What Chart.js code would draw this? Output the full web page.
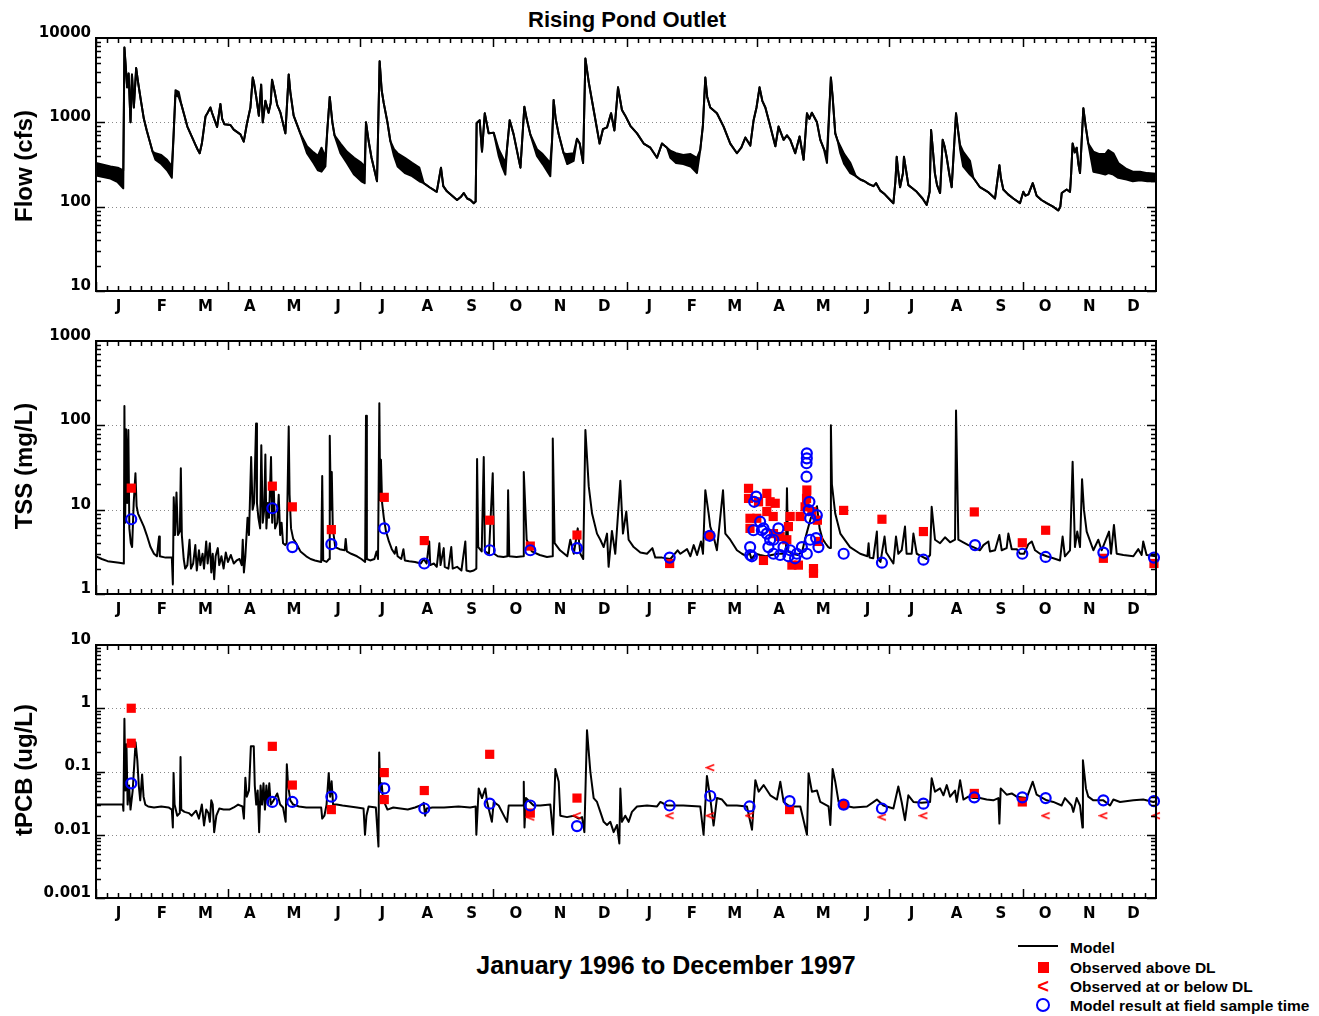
<!DOCTYPE html>
<html>
<head>
<meta charset="utf-8">
<title>Rising Pond Outlet</title>
<script src="https://cdn.jsdelivr.net/npm/chart.js@4.4.1/dist/chart.umd.min.js"></script>
<style>
  body { margin: 0; background: #fff; }
  #page { position: relative; width: 1319px; height: 1016px; font-family: "Liberation Sans", Arial, Helvetica, sans-serif; font-weight: bold; color: #000; }
  canvas { position: absolute; left: 0; }
  .txt { position: absolute; white-space: nowrap; transform: translate(-50%, -50%); }
  .ytitle { position: absolute; white-space: nowrap; font-size: 24px; transform: translate(-50%, -50%) rotate(-90deg); }
  .leg { position: absolute; left: 1070px; white-space: nowrap; font-size: 15.5px; line-height: 1; transform: translateY(-50%); }
</style>
</head>
<body>
<div id="page">
  <div class="txt" style="left:627px; top:20px; font-size:22px;">Rising Pond Outlet</div>
  <canvas id="flowChart" width="1319" height="303" style="top:18px"></canvas>
  <canvas id="tssChart" width="1319" height="303" style="top:321px"></canvas>
  <canvas id="pcbChart" width="1319" height="303" style="top:625px"></canvas>
  <div class="ytitle" style="left:24px; top:166px;">Flow (cfs)</div>
  <div class="ytitle" style="left:24px; top:466px;">TSS (mg/L)</div>
  <div class="ytitle" style="left:24px; top:770px;">tPCB (ug/L)</div>
  <div class="txt" style="left:666px; top:965px; font-size:25px;">January 1996 to December 1997</div>

  <!-- legend -->
  <div style="position:absolute; left:1018px; top:945px; width:40px; height:2px; background:#000;"></div>
  <div class="leg" style="top:948px;">Model</div>
  <div style="position:absolute; left:1038px; top:962px; width:11px; height:11px; background:#ff0000;"></div>
  <div class="leg" style="top:968px;">Observed above DL</div>
  <div class="txt" style="left:1043px; top:986px; font-size:20px; color:#ff0000;">&lt;</div>
  <div class="leg" style="top:987px;">Observed at or below DL</div>
  <div style="position:absolute; left:1036px; top:998px; width:10px; height:10px; border:2px solid #0000ff; border-radius:50%;"></div>
  <div class="leg" style="top:1006px;">Model result at field sample time</div>
</div>

<script>
// x values are days since 1 Jan 1996
const monthLetters = ['J','F','M','A','M','J','J','A','S','O','N','D','J','F','M','A','M','J','J','A','S','O','N','D'];
const flowTicks = [10, 100, 1000, 10000];
const tssTicks = [1, 10, 100, 1000];
const pcbTicks = [0.001, 0.01, 0.1, 1, 10];

// Flow (cfs): lower edge of the model line, and upper edge where the daily swing makes a band (null = no band)
const flowDay = [0, 5, 10, 15, 18.8, 19.6, 21.5, 22.5, 23.8, 24.8, 26.1, 27.7, 29, 31, 33, 35, 37, 39, 41, 45, 49, 52.3,
  53.5, 54.8, 57, 59, 61, 63, 66, 68.6, 70, 71.5, 73, 75.5, 77, 78.9, 80, 81.5, 83.5, 85.8, 87, 88.5, 92.7, 95, 99.6, 101.9,
  104, 106.5, 108.1, 109, 110.5, 112.3, 113.9, 115, 116.8, 119, 120.5, 121.4, 123, 125, 127.2, 130.6, 132.9, 134, 136.3, 140.9,
  145.5, 150, 153, 155.5, 158.2, 159.5, 161.2, 163, 164.5, 168.6, 173, 178, 183, 185.3, 186.2, 188, 190, 193.8, 195.6, 197,
  198.4, 201, 203, 205.5, 208, 213, 218, 223, 226, 230, 235, 237.9, 239.5, 242, 249, 251.5, 253.6, 256, 258.2, 260.5, 261.8,
  262.5, 264.6, 265.5, 266.2, 268.1, 270.8, 274.3, 277.7, 280, 282.3, 283.5, 285.3, 288, 292.7, 295.4, 297, 299.5, 304.1, 308,
  313.3, 314.5, 315.6, 317, 319.1, 322.5, 325, 329.4, 331.7, 333.6, 335.9, 337.5, 339.8, 343.2, 347.3, 349.6, 352.4, 355.2,
  357.5, 360, 362.7, 365, 368.5, 373.1, 377.7, 382.3, 386.9, 390.3, 393.8, 396.1, 400, 405, 410, 414.4, 416.7, 418.5, 420.2,
  421.5, 423.6, 428.2, 432.8, 437.4, 442, 445, 447.8, 451.2, 453.5, 455.5, 457.6, 459.5, 461.6, 465, 468.5, 470.7, 474.2,
  476.5, 478.8, 482.2, 485.2, 488, 490.3, 492, 493.7, 497.2, 499.5, 502, 504.1, 506.8, 508, 509.8, 511.5, 513.3, 516, 520.2,
  524, 527.1, 530, 533, 536.2, 538, 540.8, 544, 547.7, 549.9, 551.3, 552.2, 553, 554.5, 556.5, 557.2, 558.5, 560.2, 563, 566,
  570, 572.9, 574.9, 575.9, 577, 578.5, 580, 582.1, 583.9, 585.2, 586.7, 588.5, 590.1, 593.1, 594.5, 595.9, 598, 602.7, 605,
  609.6, 615, 620, 623, 624, 625.7, 629, 632.6, 637.2, 639.5, 641, 643, 646, 648.7, 652, 655.6, 660, 663.6, 665, 666, 669.4,
  671.7, 672.5, 673.5, 675, 676.3, 677.5, 678.6, 680.9, 682.5, 684.3, 687.8, 692, 696, 698.1, 701.6, 705, 710.7, 715, 720, 725, 731];
const flowLow = [235, 225, 215, 195, 165, 7700, 2600, 3800, 1000, 3700, 1500, 4400, 3000, 1800, 1100, 800, 600, 450, 360, 320, 270, 220,
  700, 2100, 2000, 1600, 1200, 890, 680, 540, 480, 430, 560, 1170, 1300, 1500, 1300, 1100, 880, 1650, 1100, 950, 930, 820, 720, 590,
  950, 1500, 3400, 2900, 2000, 1200, 2800, 1000, 1800, 1300, 1700, 3200, 2400, 1600, 1300, 740, 3700, 2300, 1200, 740,
  430, 330, 270, 260, 300, 800, 2000, 1000, 700, 430, 330, 240, 200, 190, 1000, 600, 380, 200, 5300, 2400,
  1700, 1000, 600, 400, 300, 250, 230, 200, 190, 170, 150, 290, 175, 152, 120, 130, 145, 125, 120, 110, 115,
  980, 1060, 650, 450, 1280, 740, 750, 400, 300, 240, 500, 1060, 720, 290, 1530, 1100, 720, 400, 320,
  230, 600, 1840, 1100, 720, 430, 320, 350, 640, 560, 330, 5700, 3000, 1400, 560, 830, 870, 1280,
  800, 2600, 1400, 1200, 910, 740, 560, 500, 380, 560, 500, 380, 330, 320, 300, 250, 470, 900, 3400,
  2000, 1500, 1280, 890, 560, 430, 500, 660, 530, 1060, 1500, 2600, 1800, 1500, 900, 520, 890, 620,
  700, 620, 430, 680, 360, 1280, 1100, 1300, 1000, 620, 480, 330, 3400, 2000, 740, 600, 430, 320, 250,
  230, 210, 200, 185, 175, 190, 155, 140, 120, 110, 200, 390, 280, 170, 250, 390, 280, 180, 165, 150,
  125, 105, 150, 810, 500, 250, 180, 145, 620, 520, 380, 240, 170, 1280, 800, 480, 300, 240, 220,
  170, 150, 125, 310, 220, 160, 140, 125, 110, 150, 135, 140, 190, 135, 120, 110, 100, 90, 100, 145, 160,
  150, 250, 560, 440, 500, 320, 250, 1470, 900, 560, 260, 250, 240, 250, 240, 220, 210, 200, 205, 200, 200];
const flowHigh = [330, 315, 300, 290, 270, null, null, null, null, null, null, null, null, null, null, null, null, null, 430, 410, 360, 300,
  null, 2400, 2300, null, null, null, null, null, null, null, null, null, null, null, null, null, null, null, null, null, null, null, null, null,
  null, null, null, null, null, null, null, null, null, null, null, null, null, null, null, null, null, null, null, null,
  520, 440, 400, 500, 390, null, null, null, null, 560, 450, 380, 330, 300, null, null, null, null, null, null,
  null, null, null, 480, 430, 380, 330, 290, null, null, null, null, null, null, null, null, null, null, null, null, null,
  null, null, null, null, null, null, null, 480, 400, 330, null, null, null, null, null, null, null, 480, 420,
  330, null, null, null, null, null, 420, 430, null, null, null, null, null, null, null, null, null, null,
  null, null, null, null, null, null, null, null, null, null, null, 460, 430, 410, 420, 380, null, null, null,
  null, null, null, null, null, null, null, null, null, null, null, null, null, null, null, null, null, null,
  null, null, null, null, null, null, null, null, null, null, null, 420, null, null, null, null, 520, 420, 330,
  null, null, null, null, null, null, null, null, null, null, null, null, null, null, null, null, null, null, null, null,
  null, null, null, null, null, null, null, null, null, null, null, null, null, null, null, 540, 450, 350, null,
  null, null, null, null, null, null, null, null, null, null, null, null, null, null, null, null, null, null, null, null, null,
  null, null, null, null, null, null, null, null, null, null, 450, 420, 420, 470, 430, 330, 280, 260, 260, 250, 245];

// TSS (mg/L) model line
const tssDay = [0, 4, 8, 12, 16, 19.2, 19.6, 20.1, 20.7, 21.5, 22.3, 23, 24, 24.9, 26, 27.2, 28, 29, 31, 33, 35, 37.6, 40, 42, 43.5, 44,
  48, 52.3, 53, 53.6, 54.5, 55.5, 56.5, 57.8, 58.5, 59.2, 60.5, 61.5, 63, 64.5, 65.5, 67, 68.5, 69.5, 71, 72, 73.5, 74.5, 76, 77,
  78.5, 79.5, 80.5, 81.5, 82.5, 84, 85, 86.5, 88, 89.5, 91, 93, 95, 97, 99, 100.5, 101.2, 102, 103, 104.5, 105.5, 107, 108, 109,
  110.4, 111, 112, 113.2, 114, 115, 116, 116.8, 117.5, 118.5, 119.3, 120.7, 121.5, 122.5, 123.5, 125, 126, 127, 128, 129, 130.5,
  131.5, 132.9, 133.5, 134.5, 136, 138, 141, 145, 148, 151, 155.3, 156, 156.7, 159, 160.7, 161.2, 162, 162.6, 163.3, 165, 168,
  171.5, 172.2, 173, 176, 180, 183, 185.6, 186.2, 186.8, 189, 192, 193.5, 194.5, 195.4, 196, 196.5, 197.3, 198.5, 200, 202, 204,
  206, 207, 208, 210.5, 212, 213, 216, 220, 224, 226, 228, 229.8, 230.5, 233, 235, 236.8, 237.6, 239.8, 240.5, 243, 245, 246,
  249, 252, 254.7, 255.5, 258, 260.5, 262.3, 262.8, 263.6, 266, 267.4, 268.2, 271, 273.6, 274.6, 277, 281, 283.7, 284.2, 285,
  290, 294.5, 295, 297, 300.5, 306, 311, 314.5, 315, 316.3, 320, 325, 327.1, 329.5, 332.2, 334, 336, 337.5, 339.8, 342.1, 345.5,
  347.8, 350.1, 352.4, 353.5, 355.8, 358.1, 361.6, 363.4, 365.7, 367.3, 370.8, 375.4, 380, 383.7, 385.7, 390.3, 396.1, 401.1,
  403, 407.6, 409.9, 412.2, 414.5, 417.2, 418.6, 420.2, 422.5, 423.6, 425.9, 428.2, 432.4, 434, 437.4, 442, 445.5, 448.9,
  450.5, 452, 455, 458, 462, 466, 470, 474, 475.8, 476.5, 477.3, 480, 484, 487, 489, 491, 493, 495, 497.2, 499, 501, 503, 505,
  506.2, 506.8, 507.5, 509.8, 513.3, 520, 527, 532, 532.8, 533.5, 536, 538.5, 539.2, 541, 543.8, 545, 549.9, 551.7, 553.3,
  555.6, 557.9, 559, 562.5, 563.7, 566, 569.4, 572.9, 575.2, 576.3, 578.6, 582.1, 585.5, 589, 592.4, 593.1, 594.7, 598.1,
  601.6, 605, 609.6, 612, 615.4, 616.5, 620, 623, 624.6, 628, 629.2, 631.5, 635, 637.2, 640, 643, 645.3, 647.6, 651, 655.6,
  660.2, 664.8, 666.6, 668.2, 671.7, 673.5, 675.1, 676.7, 678.6, 680, 681.3, 683.2, 687.8, 691.2, 693.5, 698.6, 700, 702,
  703.9, 708.5, 715.4, 718.8, 721.1, 722.2, 724.5, 731];
const tssVal = [2.8, 2.6, 2.45, 2.4, 2.35, 2.3, 170, 7, 90, 12, 88, 6, 4, 3.6, 12, 27, 11, 9, 7.5, 6.3, 5, 3.6, 3, 2.8, 4.8, 2.8,
  2.7, 2.7, 1.3, 14, 5, 16, 5, 5.5, 31, 5, 2.6, 2.0, 2.2, 4.4, 2.0, 2.3, 3.8, 1.9, 3.3, 2.2, 3.0, 2.0, 4.2, 2.3,
  4.0, 1.8, 3.0, 1.5, 2.8, 3.5, 2.2, 2.8, 2.0, 3.1, 2.4, 2.9, 2.3, 2.5, 2.6, 2.2, 4.4, 1.8, 2.8, 8, 5, 42, 10, 12,
  105, 12, 8, 6, 58, 7, 10, 45, 6, 12, 8, 42, 7, 20, 6, 7, 15, 5, 7, 4, 3.8,
  4, 97, 15, 6, 4.5, 4, 3.2, 2.8, 2.6, 2.5, 2.4, 25, 2.5, 2.4, 2.6, 75, 10, 28, 6, 3.6, 3.4,
  3.3, 4.5, 3.2, 3, 2.8, 2.6, 2.4, 130, 2.6, 2.5, 2.6, 3.2, 2.6, 183, 13, 39, 12, 8, 5.5, 4.2, 3.4,
  3, 3.6, 2.8, 2.6, 3.4, 2.5, 2.45, 2.4, 2.3, 2.6, 2.3, 4.2, 2.2, 2.3, 2.1, 4, 2.2, 3.5, 2.1, 2.0, 3.6, 2.0,
  2.1, 1.9, 4.2, 1.9, 1.85, 1.9, 2.0, 40, 3.6, 3.2, 42, 3.2, 3, 27, 3, 2.8, 2.75, 2.8, 17, 2.8,
  2.75, 2.8, 28, 4.4, 3.2, 2.9, 2.75, 2.8, 70, 4, 3.3, 2.8, 4.4, 3, 6, 3, 2.6, 88, 19, 9, 5.2,
  4.4, 3.6, 5.2, 2.1, 5.6, 3, 22, 5.2, 9.5, 4.4, 3.6, 3.1, 3, 3.5, 2.7, 2.7, 2.6, 3.3,
  3, 3.4, 2.8, 3.8, 2.9, 4.2, 3, 17, 9, 6.3, 4.8, 3.3, 17, 5.2, 4.4, 3.3, 3, 2.8,
  3.2, 2.6, 3, 2.9, 2.8, 2.9, 3.0, 3, 3.2, 18, 3.2, 3, 2.9, 3.2, 4.5, 6, 8, 9, 11, 6, 4.5, 4, 3.6,
  3.5, 100, 20, 9, 5.2, 3.6, 3, 2.8, 4, 2.7, 2.65, 5.5, 2.6, 2.4, 4.8, 3.1, 2.3, 4.8, 3,
  3.3, 6.3, 3, 3, 5.2, 3, 2.8, 2.6, 2.9, 10.8, 4.4, 4, 4.7, 4.1, 4.4, 150, 4.4, 4.1,
  3.8, 3.6, 3.3, 3.8, 4.2, 3.2, 3.3, 5, 3.3, 3.5, 5.2, 3.4, 3.4, 3, 3, 3.9, 4.2, 3.3, 3, 2.8,
  2.65, 2.5, 4.8, 2.8, 3.3, 37, 3.6, 5.5, 3.6, 23, 10, 5.5, 3.3, 4.4, 3.3, 5.5, 3, 6.6,
  3, 2.9, 2.8, 3.4, 2.9, 4.2, 2.9, 2.8];

// TSS observations above detection limit
const tssObsDay = [24.3, 121.6, 135.4, 162.3, 198.8, 226.4, 271.5, 299.5, 331.7, 395.6, 423.2,
  450, 450, 451, 451, 455.7, 456.9, 460.3, 462.6, 462.6, 464.9, 467, 467.2, 468.4, 471.8, 476.4, 477.5, 478.7, 479.9,
  484.4, 485.6, 489, 490, 490.2, 493.7, 494.8, 494.8, 497.5, 498.2,
  515.6, 542, 570.6, 605.7, 638.8, 654.9, 694.7, 729.6];
const tssObsVal = [18, 19, 10.8, 5.8, 14, 4.3, 7.5, 3.7, 5, 2.3, 4.9,
  17.9, 13.6, 7.9, 6.0, 7.9, 12.4, 2.5, 15.6, 9.5, 12.4, 8.3, 5.2, 11.9, 4.8, 4.4, 6.3, 8.3, 2.2,
  2.2, 8.3, 10.8, 13.6, 17.1, 9.5, 2.0, 1.76, 7.5, 4.2,
  9.8, 7.7, 5.5, 9.4, 4.05, 5.7, 2.65, 2.3];
// TSS model result at field sample time
const tssModDay = [24.3, 121.6, 135.4, 162.3, 198.8, 226.4, 271.5, 299.5, 331.7, 395.6, 423.2,
  451.1, 451.2, 452.3, 453.4, 453.9, 455.3, 458, 459.2, 460.3, 462.6, 463.7, 464.9, 467.2, 467.2, 470.6, 471.8, 474.1,
  477.5, 478.7, 482.1, 483.3, 486.8, 490.2, 490.2, 490.2, 490, 490, 491.5, 492, 492.5, 492.5, 496.6, 497.1, 498.2,
  515.6, 542, 570.6, 606.2, 638.8, 654.9, 694.7, 729.6];
const tssModVal = [7.7, 10.4, 3.6, 3.9, 6.0, 2.3, 3.3, 3.3, 3.5, 2.7, 4.9,
  3.6, 2.9, 2.8, 5.7, 12.4, 14.3, 7.2, 5.7, 6.0, 5.2, 3.6, 4.4, 4.4, 3.0, 6.0, 2.9, 3.6,
  2.8, 3.3, 2.65, 3.0, 3.6, 3.0, 46.6, 40.6, 35.5, 24.6, 9.9, 12.4, 7.9, 4.4, 4.6, 8.6, 3.6,
  3.0, 2.35, 2.55, 3.8, 3.0, 2.75, 3.1, 2.7];

// tPCB (ug/L) model line
const pcbDay = [0, 10, 18.5, 18.9, 19.6, 20.3, 21, 21.8, 22.8, 23.8, 25.3, 27.3, 28.5, 29.5, 30.5, 31.8, 32.8, 34, 36, 40, 45, 50,
  52.3, 53, 53.5, 54.2, 56, 57.8, 58.3, 58.8, 61, 64, 66, 69, 71, 73, 74.5, 76, 77.5, 78.5, 79.5, 80.5, 81.5, 83, 85, 88, 92,
  95, 98, 101, 102, 103, 104, 105.5, 106.8, 108.8, 109.5, 110.5, 111.5, 112.5, 113.5, 114.5, 115.5, 116.5, 117.5, 118.5, 119.5,
  120.5, 122.5, 125, 127, 129, 130.8, 131.6, 132.5, 134, 136, 140, 145, 150, 155.3, 156, 157.5, 159, 160.5, 161.5, 162.5, 163.5,
  166, 170, 175, 180, 184.5, 185.5, 186.5, 188, 193, 194.8, 195.3, 196, 197, 198, 199.5, 201, 205, 210, 215, 220, 225, 226,
  227, 228, 232, 240, 250, 258, 261.8, 262.3, 263.9, 266.2, 268.5, 269.7, 273, 274.3, 277.7, 283.5, 284.6, 288, 294.5, 295,
  295.5, 296.5, 301.8, 306.4, 313.3, 315.2, 316.8, 319.1, 320.2, 324.8, 329.4, 332.9, 335.2, 336.8, 338.6, 340.9, 343.2,
  345.5, 347.8, 350.1, 352.4, 354.7, 357, 359.3, 360.9, 361.6, 362.7, 365, 367.3, 369.6, 373.1, 380, 386.9, 389.2, 393.8,
  400, 405, 416.7, 419, 421.3, 423.6, 425.9, 428.2, 431.7, 435.1, 442, 448.9, 452.4, 454.7, 457, 460.4, 465, 469.6, 471.9,
  474.2, 477.6, 481, 485.7, 490.3, 491.4, 493.7, 497.2, 499.5, 505.2, 506.4, 508, 509.8, 512.1, 515.6, 522.5, 531.7, 538.5,
  543, 549.9, 553.3, 555.6, 557.9, 560.2, 563.7, 569.4, 575.2, 576.3, 578.6, 582.1, 584.4, 586.7, 589, 592.4, 593.6, 595.9,
  598.2, 601.6, 605, 609.6, 614.2, 618.8, 622.3, 623, 623.9, 628, 631.5, 634.9, 641.8, 646, 648.7, 655.6, 660.2, 665.9,
  668.2, 672.8, 674, 676.3, 678.6, 680.3, 680.6, 682.7, 684.3, 687.8, 694.7, 699.3, 701.6, 706.2, 715.4, 722.2, 729.1, 731];
const pcbVal = [0.03, 0.03, 0.03, 0.024, 0.68, 0.05, 0.27, 0.03, 0.06, 0.025, 0.05, 0.29, 0.15, 0.06, 0.035, 0.09, 0.04, 0.03, 0.028, 0.027, 0.028, 0.027,
  0.025, 0.013, 0.095, 0.03, 0.02, 0.022, 0.17, 0.025, 0.023, 0.022, 0.02, 0.024, 0.018, 0.03, 0.014, 0.025, 0.022, 0.016, 0.035, 0.03, 0.011, 0.02, 0.026, 0.025, 0.025,
  0.027, 0.03, 0.028, 0.018, 0.08, 0.04, 0.05, 0.25, 0.25, 0.06, 0.03, 0.05, 0.011, 0.06, 0.03, 0.065, 0.025, 0.06, 0.03, 0.065,
  0.03, 0.035, 0.045, 0.03, 0.027, 0.016, 0.13, 0.06, 0.035, 0.03, 0.028, 0.027, 0.027, 0.027, 0.018, 0.02, 0.03, 0.095, 0.04, 0.07, 0.03,
  0.03, 0.029, 0.028, 0.027, 0.026, 0.01, 0.02, 0.028, 0.027, 0.0065, 0.2, 0.05, 0.065, 0.035, 0.03, 0.025, 0.027, 0.026, 0.025, 0.027, 0.03, 0.032,
  0.02, 0.026, 0.027, 0.027, 0.028, 0.027, 0.028, 0.01, 0.054, 0.038, 0.054, 0.033, 0.016, 0.033, 0.029, 0.016, 0.029, 0.029, 0.029, 0.069,
  0.013, 0.038, 0.029, 0.029, 0.03, 0.01, 0.11, 0.069, 0.02, 0.019, 0.02, 0.018, 0.019, 0.011, 0.45, 0.1, 0.038,
  0.033, 0.023, 0.016, 0.0143, 0.016, 0.011, 0.0143, 0.0073, 0.054, 0.016, 0.02, 0.016, 0.023, 0.028, 0.029, 0.028, 0.033, 0.029,
  0.029, 0.029, 0.028, 0.01, 0.085, 0.038, 0.014, 0.038, 0.036, 0.029, 0.029, 0.028, 0.012, 0.073, 0.048, 0.061, 0.042, 0.036, 0.069,
  0.033, 0.029, 0.028, 0.028, 0.01, 0.094, 0.048, 0.05, 0.033, 0.028, 0.0143, 0.11, 0.069, 0.033, 0.029, 0.027, 0.028, 0.036,
  0.029, 0.026, 0.058, 0.033, 0.017, 0.042, 0.033, 0.032, 0.033, 0.078, 0.048, 0.054, 0.042, 0.061, 0.04, 0.05, 0.033, 0.073,
  0.036, 0.04, 0.038, 0.038, 0.036, 0.035, 0.038, 0.015, 0.054, 0.043, 0.045, 0.04, 0.038, 0.069, 0.043, 0.035, 0.033, 0.029,
  0.038, 0.029, 0.023, 0.038, 0.029, 0.013, 0.15, 0.054, 0.04, 0.035, 0.035, 0.029, 0.036, 0.033, 0.035, 0.036, 0.033, 0.034];

// tPCB observations: above DL, at or below DL, and model result at sample time
const pcbObsDay = [24.3, 24.3, 121.6, 135.4, 162.3, 198.8, 198.8, 226.4, 271.5, 299.5, 331.7, 478.3, 515.6, 605.7, 638.8];
const pcbObsVal = [1.0, 0.28, 0.25, 0.061, 0.025, 0.096, 0.036, 0.05, 0.187, 0.022, 0.038, 0.025, 0.03, 0.045, 0.033];
const pcbLtDay = [299.5, 331.7, 395.6, 423.6, 423.6, 450.7, 542, 570.6, 654.9, 694.7, 731];
const pcbLtVal = [0.019, 0.02, 0.02, 0.115, 0.02, 0.02, 0.019, 0.02, 0.02, 0.02, 0.02];
const pcbModDay = [24.3, 121.6, 135.4, 162.3, 198.8, 226.4, 271.5, 299.5, 331.7, 395.6, 423.6, 450.7, 478.3, 515.6, 542,
  570.6, 605.7, 638.8, 654.9, 694.7, 729.6];
const pcbModVal = [0.065, 0.033, 0.033, 0.04, 0.054, 0.026, 0.031, 0.029, 0.0137, 0.029, 0.041, 0.028, 0.034, 0.03, 0.026,
  0.031, 0.039, 0.039, 0.038, 0.035, 0.034];

// month boundaries in days, from the calendar
const day0 = Date.UTC(1996, 0, 1);
const monthStart = Array.from({ length: 25 }, (_, m) => (Date.UTC(1996, m, 1) - day0) / 864e5);
const monthMid = monthStart.slice(0, 24).map((s, i) => (s + monthStart[i + 1]) / 2);

const pts = (xs, ys) => xs.map((x, i) => ({ x: x, y: ys[i] }));
const tickFont = { family: 'DejaVu Sans', size: 15, weight: 'bold' };

// red "<" marker used for samples at or below the detection limit
const ltMark = document.createElement('canvas');
ltMark.width = 10; ltMark.height = 9;
const lc = ltMark.getContext('2d');
lc.strokeStyle = '#ff0000';
lc.lineWidth = 1.5;
lc.beginPath(); lc.moveTo(9, 1.5); lc.lineTo(1.5, 4.5); lc.lineTo(9, 7.5); lc.stroke();

// dotted decade lines, inward tick marks on all four sides, heavy frame
const framePlugin = {
  id: 'frame',
  beforeDatasetsDraw(chart) {
    const { ctx, chartArea: a, scales: { y } } = chart;
    ctx.save();
    ctx.strokeStyle = '#8a8a8a';
    ctx.lineWidth = 1;
    ctx.setLineDash([1, 3]);
    y.ticks.forEach(t => {
      if (t.value <= y.min || t.value >= y.max) return;
      const py = Math.round(y.getPixelForValue(t.value)) + 0.5;
      ctx.beginPath(); ctx.moveTo(a.left, py); ctx.lineTo(a.right, py); ctx.stroke();
    });
    ctx.restore();
  },
  afterDraw(chart) {
    const { ctx, chartArea: a, scales: { x, y } } = chart;
    ctx.save();
    ctx.strokeStyle = '#000';
    ctx.lineWidth = 1.5;
    ctx.beginPath();
    for (let m = 0; m < 24; m++) {
      const s = monthStart[m], len = monthStart[m + 1] - s;
      for (let k = 0; k < 4; k++) {
        const px = Math.round(x.getPixelForValue(s + k * len / 4)) + 0.5;
        const tl = (k === 0 && m % 3 === 0) ? 9 : 5;
        ctx.moveTo(px, a.bottom); ctx.lineTo(px, a.bottom - tl);
        ctx.moveTo(px, a.top); ctx.lineTo(px, a.top + tl);
      }
    }
    const d0 = Math.round(Math.log10(y.min)), d1 = Math.round(Math.log10(y.max));
    for (let d = d0; d < d1; d++) {
      for (let k = 1; k < 10; k++) {
        const py = Math.round(y.getPixelForValue(k * Math.pow(10, d))) + 0.5;
        const tl = k === 1 ? 9 : 5;
        ctx.moveTo(a.left, py); ctx.lineTo(a.left + tl, py);
        ctx.moveTo(a.right, py); ctx.lineTo(a.right - tl, py);
      }
    }
    ctx.stroke();
    ctx.lineWidth = 2;
    ctx.strokeRect(a.left, a.top, a.right - a.left, a.bottom - a.top);
    ctx.restore();
  }
};

function makePanel(id, yMin, yMax, yTicks, datasets) {
  return new Chart(document.getElementById(id), {
    type: 'line',
    data: { datasets: datasets },
    options: {
      responsive: false,
      animation: false,
      events: [],
      layout: { padding: { top: 20, right: 163, left: 0, bottom: 0 } },
      plugins: { legend: { display: false }, tooltip: { enabled: false } },
      elements: { line: { tension: 0, borderJoinStyle: 'round' } },
      scales: {
        x: {
          type: 'linear', min: 0, max: monthStart[24],
          afterBuildTicks: s => { s.ticks = monthMid.map(v => ({ value: v })); },
          afterFit: s => { s.height = 30; },
          grid: { display: false, drawTicks: false },
          border: { display: false },
          ticks: { autoSkip: false, maxRotation: 0, padding: 7, color: '#000', font: tickFont,
            callback: (v, i) => monthLetters[i] }
        },
        y: {
          type: 'logarithmic', min: yMin, max: yMax,
          afterBuildTicks: s => { s.ticks = yTicks.map(v => ({ value: v })); },
          afterFit: s => { s.width = 96; },
          grid: { display: false, drawTicks: false },
          border: { display: false },
          ticks: { padding: 5, labelOffset: -5, color: '#000', font: tickFont, callback: v => String(v) }
        }
      }
    },
    plugins: [framePlugin]
  });
}

const modelLine = (data) => ({ data: data, borderColor: '#000', borderWidth: 2, pointRadius: 0, fill: false });
const redSquares = (data) => ({ data: data, showLine: false, pointStyle: 'rect', pointRadius: 6.5,
  pointBackgroundColor: '#ff0000', pointBorderWidth: 0, clip: false });
const blueCircles = (data) => ({ data: data, showLine: false, pointStyle: 'circle', pointRadius: 5,
  pointBorderColor: '#0000ff', pointBackgroundColor: 'rgba(0,0,0,0)', pointBorderWidth: 2.2, clip: false });

// Flow: lower edge, then upper edge filled down to it
makePanel('flowChart', 10, 10000, flowTicks, [
  modelLine(pts(flowDay, flowLow)),
  Object.assign(modelLine(pts(flowDay, flowHigh.map((v, i) => v === null ? flowLow[i] : v))),
    { fill: '-1', backgroundColor: '#000' })
]);

makePanel('tssChart', 1, 1000, tssTicks, [
  blueCircles(pts(tssModDay, tssModVal)),
  redSquares(pts(tssObsDay, tssObsVal)),
  modelLine(pts(tssDay, tssVal))
]);

makePanel('pcbChart', 0.001, 10, pcbTicks, [
  blueCircles(pts(pcbModDay, pcbModVal)),
  { data: pts(pcbLtDay, pcbLtVal), showLine: false, pointStyle: ltMark, clip: false },
  redSquares(pts(pcbObsDay, pcbObsVal)),
  modelLine(pts(pcbDay, pcbVal))
]);
</script>
</body>
</html>
